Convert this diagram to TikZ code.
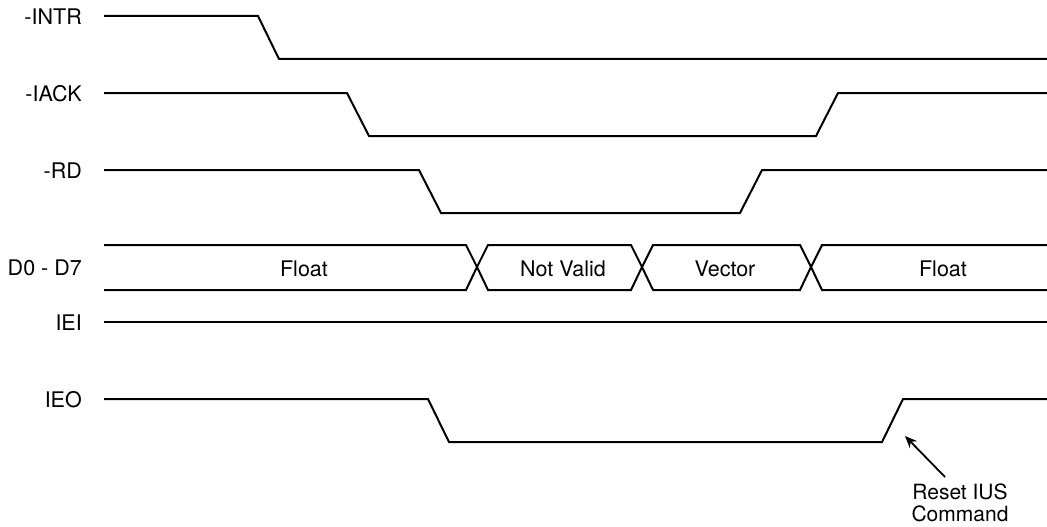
\documentclass[tikz,border=0pt]{standalone}
\usepackage{fontspec}
\setmainfont{TeX Gyre Heros}
\usetikzlibrary{arrows.meta}
\begin{document}
\begin{tikzpicture}[x=1pt,y=-1pt,
  sig/.style={line width=2pt,line join=miter},
  lbl/.style={anchor=east,inner sep=0pt,font=\fontsize{21.5}{24}\selectfont},
  txt/.style={inner sep=0pt,font=\fontsize{21.5}{24}\selectfont},
  note/.style={inner sep=0pt,align=center,font=\fontsize{21}{22}\selectfont}]
\useasboundingbox (0,0) rectangle (1047,527);
% labels
\node[lbl] (lintr) at (82,17) {-INTR};
\node[lbl] (liack) at (82,94) {-IACK};
\node[lbl] (lrd) at (82,171) {-RD};
\node[lbl] (ld) at (82,268) {D0 - D7};
\node[lbl] (liei) at (82,323) {IEI};
\node[lbl] (lieo) at (82,400) {IEO};
% -INTR
\draw[sig] (104,16) -- (258,16) -- (279,59) -- (1047,59);
% -IACK
\draw[sig] (104,93) -- (347,93) -- (369,136) -- (816,136) -- (838,93) -- (1047,93);
% -RD
\draw[sig] (104,170) -- (419,170) -- (441,213) -- (740,213) -- (762,170) -- (1047,170);
% D0-D7 bus
\draw[sig] (104,245) -- (466,245) -- (477,267) -- (466,290) -- (104,290);
\draw[sig] (477,267) -- (488,245) -- (631,245) -- (642,267) -- (631,290) -- (488,290) -- cycle;
\draw[sig] (642,267) -- (653,245) -- (800,245) -- (811,267) -- (800,290) -- (653,290) -- cycle;
\draw[sig] (1047,245) -- (822,245) -- (811,267) -- (822,290) -- (1047,290);
\node[txt] (f1) at (304,269) {Float};
\node[txt] (nv) at (563,269) {Not Valid};
\node[txt] (vec) at (725,269) {Vector};
\node[txt] (f2) at (943,269) {Float};
% IEI
\draw[sig] (104,322) -- (1047,322);
% IEO
\draw[sig] (104,399) -- (428,399) -- (449,442) -- (882,442) -- (903,399) -- (1047,399);
% note
\node[note,anchor=north] (reset) at (960,484) {Reset IUS\\Command};
\coordinate (tail) at (945,477);
\coordinate (tip) at (905,436);
\draw[line width=1.8pt,-{Stealth[length=12pt,width=10pt]}] (tail) -- (tip);
\end{tikzpicture}
\end{document}
